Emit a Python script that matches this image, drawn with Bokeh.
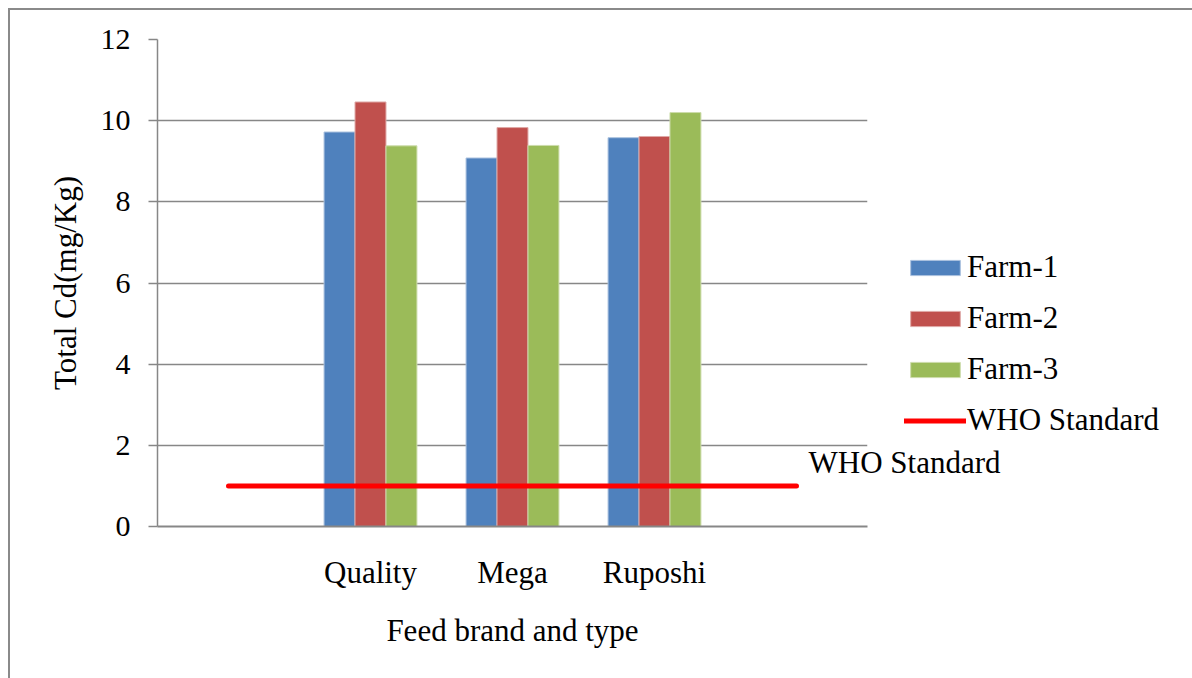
from bokeh.plotting import figure
from bokeh.models import ColumnDataSource, Legend, LegendItem, FactorRange, Label
from bokeh.transform import dodge
from bokeh.core.properties import value
from bokeh.embed import file_html
from bokeh.resources import INLINE

# ---- data ----
categories = [" ", "Quality", "Mega", "Ruposhi", "  "]
brands = ["Quality", "Mega", "Ruposhi"]
farm1 = [9.72, 9.08, 9.58]
farm2 = [10.46, 9.83, 9.61]
farm3 = [9.38, 9.39, 10.2]
who_standard = [1, 1, 1, 1, 1]
y_ticks = [0, 2, 4, 6, 8, 10, 12]
series_names = ["Farm-1", "Farm-2", "Farm-3", "WHO Standard"]

FONT = "Liberation Serif"
GRID = "#878787"

src = ColumnDataSource(dict(brand=brands, f1=farm1, f2=farm2, f3=farm3))
who_src = ColumnDataSource(dict(cat=categories, v=who_standard))

p = figure(
    x_range=FactorRange(*categories), y_range=(0, 12),
    frame_width=710, frame_height=487,
    min_border_left=147, min_border_right=313,
    min_border_top=29, min_border_bottom=152,
    output_backend="svg", toolbar_location=None,
    outline_line_color=None, background_fill_color="white",
    border_fill_color="white",
)
p.styles = {
    "margin-left": "8px", "margin-top": "8px",
    "border-left": "2px solid #8a8a8a",
    "border-top": "2px solid #8a8a8a",
    "border-right": "2px solid #8a8a8a",
}

bw = 0.218
colors = ["#4F81BD", "#C0504D", "#9BBB59"]
r1 = p.vbar(x=dodge("brand", -bw, range=p.x_range), top="f1", width=bw, source=src,
            fill_color=colors[0], line_color="#a9c0de", line_width=1)
r2 = p.vbar(x=dodge("brand", 0, range=p.x_range), top="f2", width=bw, source=src,
            fill_color=colors[1], line_color="#dfa8a6", line_width=1)
r3 = p.vbar(x=dodge("brand", bw, range=p.x_range), top="f3", width=bw, source=src,
            fill_color=colors[2], line_color="#cddcac", line_width=1)
r4 = p.line(x="cat", y="v", source=who_src, line_color="#FF0000", line_width=5,
            line_cap="round")

# axes
p.xgrid.grid_line_color = None
p.ygrid.grid_line_color = GRID
p.ygrid.grid_line_width = 1.5
p.yaxis.ticker = y_ticks
p.yaxis.axis_line_color = GRID
p.yaxis.axis_line_width = 1.5
p.yaxis.major_tick_line_color = GRID
p.yaxis.major_tick_line_width = 1.5
p.yaxis.major_tick_out = 9
p.yaxis.major_tick_in = 0
p.yaxis.minor_tick_line_color = None
p.yaxis.major_label_standoff = 18
p.yaxis.major_label_text_font = FONT
p.yaxis.major_label_text_font_size = "30px"
p.yaxis.major_label_text_color = "black"
p.yaxis.axis_label = "Total Cd(mg/Kg)"
p.yaxis.axis_label_text_font = FONT
p.yaxis.axis_label_text_font_size = "31px"
p.yaxis.axis_label_text_font_style = "normal"
p.yaxis.axis_label_text_color = "black"
p.yaxis.axis_label_standoff = 15

p.xaxis.axis_line_color = GRID
p.xaxis.axis_line_width = 2
p.xaxis.major_tick_line_color = None
p.xaxis.minor_tick_line_color = None
p.xaxis.major_label_standoff = 22
p.xaxis.major_label_text_font = FONT
p.xaxis.major_label_text_font_size = "31px"
p.xaxis.major_label_text_color = "black"
p.xaxis.axis_label = "Feed brand and type"
p.xaxis.axis_label_text_font = FONT
p.xaxis.axis_label_text_font_size = "31px"
p.xaxis.axis_label_text_font_style = "normal"
p.xaxis.axis_label_text_color = "black"
p.xaxis.axis_label_standoff = 20

legend = Legend(
    items=[LegendItem(label=series_names[0], renderers=[r1]),
           LegendItem(label=series_names[1], renderers=[r2]),
           LegendItem(label=series_names[2], renderers=[r3]),
           LegendItem(label=series_names[3], renderers=[r4])],
    location=(37, 88), orientation="vertical",
    glyph_width=62, glyph_height=19, label_height=30, spacing=15,
    label_standoff=1, padding=0, margin=0,
    border_line_color=None, background_fill_alpha=0,
    label_text_font=FONT, label_text_font_size="31px", label_text_color="black",
)
p.add_layout(legend, "right")

# synthetic coordinate of the last factor's centre (FactorRange maps factor i to i + 0.5)
last_x = categories.index(categories[-1]) + 0.5
who_label = Label(x=last_x, y=who_standard[-1], text=series_names[3],
                  x_offset=12, y_offset=23, text_font=FONT, text_font_size="31px",
                  text_color="black", text_baseline="alphabetic", text_align="left")
p.add_layout(who_label, "right")

open("out.html", "w").write(file_html(p, INLINE))
